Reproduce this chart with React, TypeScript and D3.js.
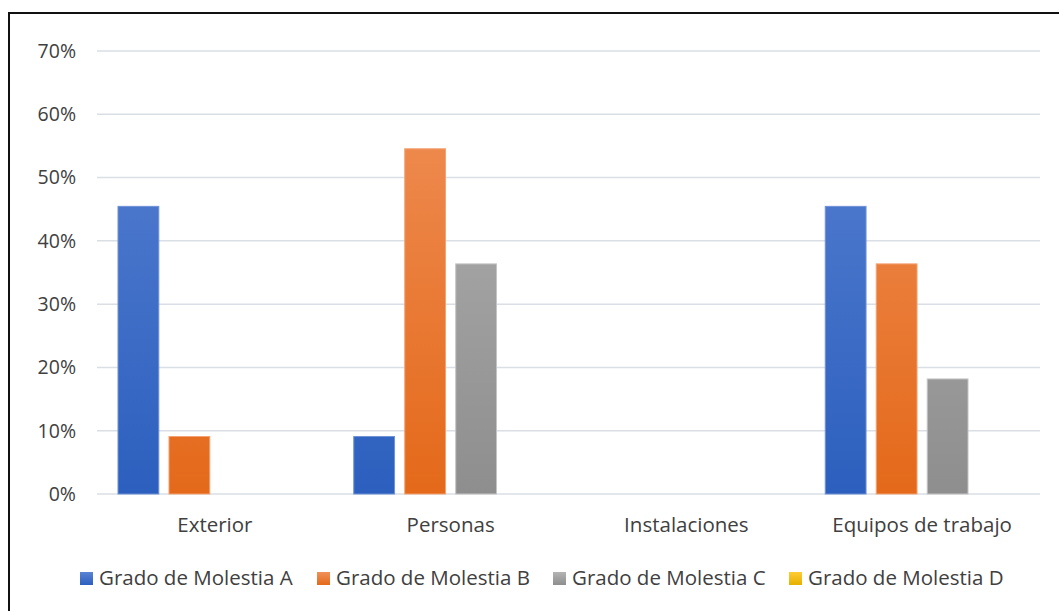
import React from "react";
import * as d3 from "d3";

const categories = ["Exterior", "Personas", "Instalaciones", "Equipos de trabajo"];
const seriesNames = ["Grado de Molestia A", "Grado de Molestia B", "Grado de Molestia C", "Grado de Molestia D"];
const seriesA = [0.4545, 0.0909, 0, 0.4545];
const seriesB = [0.0909, 0.5455, 0, 0.3636];
const seriesC = [0, 0.3636, 0, 0.1818];
const seriesD = [0, 0, 0, 0];
const yTicks = [0, 0.1, 0.2, 0.3, 0.4, 0.5, 0.6, 0.7];

const allSeries = [seriesA, seriesB, seriesC, seriesD];
const gradTop = ["#5a83d3", "#f0915a", "#b4b4b4", "#ffcc33"];
const gradBottom = ["#2c5fbe", "#e4691a", "#8e8e8e", "#e6b000"];
const edge = ["#6f92d6", "#f3a373", "#c4c4c4", "#ffd24d"];

const W = 1059;
const H = 611;
const left = 97;
const right = 1040;
const top = 51;
const bottom = 494;
const font = "'Open Sans', 'Noto Sans', sans-serif";

export default function App() {
  const x = d3.scaleBand<string>().domain(categories).range([left, right]).paddingInner(0).paddingOuter(0);
  const inner = d3
    .scaleBand<string>()
    .domain(seriesNames)
    .range([21, x.bandwidth() - 21])
    .paddingInner(0.2);
  const y = d3.scaleLinear().domain([0, 0.7]).range([bottom, top]);
  const fmt = d3.format(".0%");

  const legendX = [80, 317, 553, 789];

  return (
    <svg width={W} height={H} style={{ position: "absolute", left: 0, top: 0 }}>
      <defs>
        {gradTop.map((c, i) => (
          <linearGradient key={i} id={`g${i}`} x1="0" y1="0" x2="0" y2="1">
            <stop offset="0" stopColor={c} />
            <stop offset="1" stopColor={gradBottom[i]} />
          </linearGradient>
        ))}
        {gradTop.map((c, i) => (
          <linearGradient
            key={"f" + i}
            id={`fg${i}`}
            gradientUnits="userSpaceOnUse"
            x1="0"
            y1={top}
            x2="0"
            y2={bottom}
          >
            <stop offset="0" stopColor={c} />
            <stop offset="1" stopColor={gradBottom[i]} />
          </linearGradient>
        ))}
      </defs>
      <rect x={0} y={0} width={W} height={H} fill="#ffffff" />
      <rect x={9} y={13} width={W + 20} height={H + 20} fill="none" stroke="#111" strokeWidth={2} />
      {yTicks.map((t) => (
        <g key={t}>
          <line x1={left} x2={right} y1={y(t)} y2={y(t)} stroke="#dadee5" strokeWidth={1.5} />
          <text
            x={76}
            y={y(t)}
            dy="0.35em"
            textAnchor="end"
            fontFamily={font}
            fontSize={19.5}
            fill="#404040"
          >
            {fmt(t)}
          </text>
        </g>
      ))}
      {categories.map((c, ci) => (
        <g key={c}>
          {allSeries.map((s, si) => {
            const v = s[ci];
            if (v <= 0) return null;
            const bx = (x(c) as number) + (inner(seriesNames[si]) as number);
            return (
              <rect
                key={si}
                x={bx}
                y={y(v)}
                width={inner.bandwidth()}
                height={y(0) - y(v)}
                fill={`url(#fg${si})`}
                stroke={edge[si]}
                strokeWidth={1}
              />
            );
          })}
          <text
            x={(x(c) as number) + x.bandwidth() / 2}
            y={525}
            textAnchor="middle"
            dy="0.35em"
            fontFamily={font}
            fontSize={20.5}
            fill="#404040"
          >
            {c}
          </text>
        </g>
      ))}
      {seriesNames.map((n, i) => (
        <g key={n}>
          <rect x={legendX[i]} y={572} width={13} height={13} fill={`url(#g${i})`} />
          <text x={legendX[i] + 19} y={578} dy="0.35em" fontFamily={font} fontSize={20.5} fill="#404040">
            {n}
          </text>
        </g>
      ))}
    </svg>
  );
}
